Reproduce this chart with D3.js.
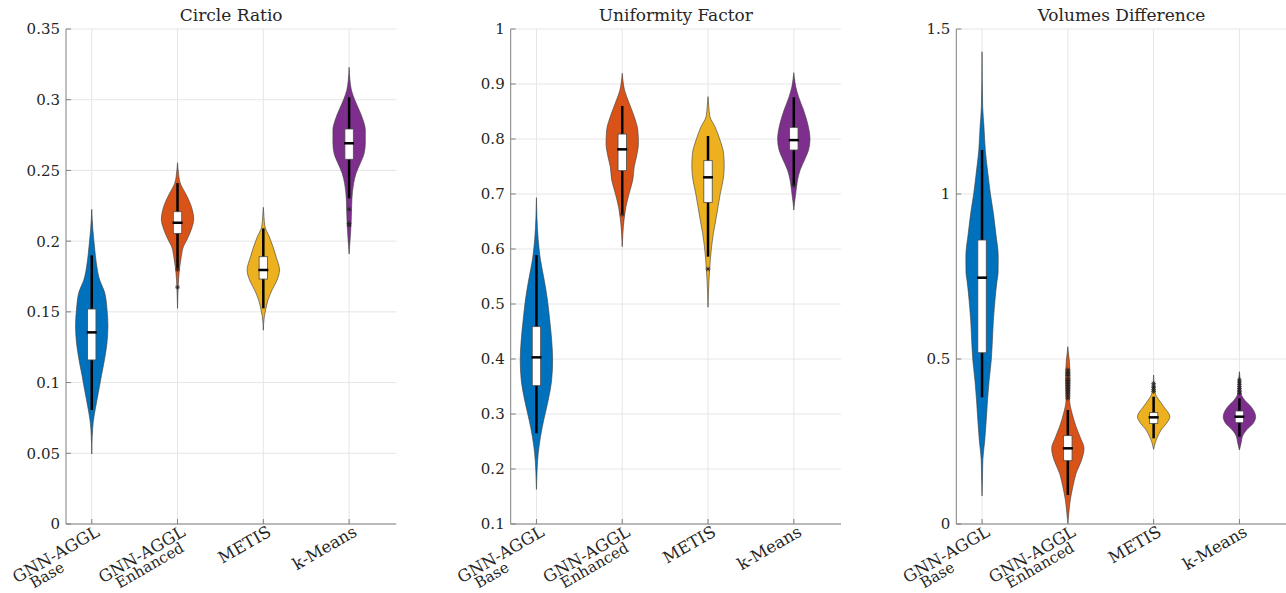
<!DOCTYPE html>
<html><head><meta charset="utf-8">
<script src="https://cdn.jsdelivr.net/npm/d3@7"></script>
<style>
body{margin:0;background:#fff}
svg{display:block}
text{font-family:"DejaVu Serif","Liberation Serif","Noto Serif",serif;fill:#262626}
</style>
</head><body>
<svg id="chart" width="1286" height="593"></svg>
<script>
// ---------- data ----------
const categoriesLine1 = ["GNN-AGGL", "GNN-AGGL", "METIS", "k-Means"];
const categoriesLine2 = ["Base", "Enhanced", "", ""];
const seriesColors = ["#0072BD", "#D95319", "#EDB120", "#7E2F8E"];
const panelTitles = ["Circle Ratio", "Uniformity Factor", "Volumes Difference"];
const yDomains = [[0, 0.35], [0.1, 1], [0, 1.5]];
const yTickValues = [
  [0, 0.05, 0.1, 0.15, 0.2, 0.25, 0.3, 0.35],
  [0.1, 0.2, 0.3, 0.4, 0.5, 0.6, 0.7, 0.8, 0.9, 1],
  [0, 0.5, 1, 1.5]
];
const yTickLabels = [
  ["0", "0.05", "0.1", "0.15", "0.2", "0.25", "0.3", "0.35"],
  ["0.1", "0.2", "0.3", "0.4", "0.5", "0.6", "0.7", "0.8", "0.9", "1"],
  ["0", "0.5", "1", "1.5"]
];

// density profiles: [value, relative density]
const circleRatioDensity = [
  [[0.0495,0],[0.062,0.03],[0.072,0.09],[0.082,0.23],[0.093,0.41],[0.105,0.6],[0.117,0.8],[0.128,0.94],[0.14,1],[0.152,0.94],[0.164,0.79],[0.1725,0.49],[0.184,0.29],[0.196,0.17],[0.208,0.07],[0.2225,0]],
  [[0.1525,0],[0.163,0.025],[0.1725,0.06],[0.182,0.14],[0.189,0.23],[0.196,0.36],[0.2015,0.6],[0.2086,0.86],[0.2156,1],[0.2222,0.91],[0.229,0.7],[0.2338,0.49],[0.241,0.17],[0.248,0.06],[0.2555,0]],
  [[0.137,0],[0.1466,0.06],[0.1513,0.14],[0.1584,0.29],[0.1655,0.54],[0.1725,0.85],[0.1796,1],[0.189,0.79],[0.196,0.6],[0.2031,0.37],[0.2102,0.1],[0.2173,0.04],[0.2239,0]],
  [[0.1909,0],[0.1961,0.03],[0.2055,0.09],[0.2173,0.14],[0.2291,0.17],[0.2409,0.28],[0.248,0.43],[0.255,0.69],[0.2621,0.93],[0.2692,1],[0.2786,1],[0.2857,0.86],[0.2927,0.62],[0.2998,0.35],[0.3069,0.14],[0.314,0.05],[0.3229,0]]
];
const uniformityDensity = [
  [[0.163,0],[0.1982,0.04],[0.2285,0.11],[0.2587,0.25],[0.289,0.45],[0.3255,0.73],[0.3618,0.94],[0.398,1],[0.4345,0.94],[0.4709,0.82],[0.5073,0.68],[0.5436,0.48],[0.58,0.25],[0.6164,0.11],[0.6588,0.03],[0.6933,0]],
  [[0.6042,0],[0.6285,0.04],[0.6527,0.11],[0.6769,0.23],[0.7013,0.43],[0.7255,0.65],[0.7497,0.74],[0.7679,0.88],[0.7922,1],[0.8164,0.96],[0.8406,0.74],[0.865,0.43],[0.889,0.14],[0.9073,0.04],[0.9194,0]],
  [[0.494,0],[0.5194,0.025],[0.5436,0.06],[0.5558,0.09],[0.58,0.14],[0.6042,0.22],[0.6285,0.33],[0.6527,0.48],[0.677,0.62],[0.7013,0.76],[0.7255,0.93],[0.7497,1],[0.774,0.96],[0.798,0.74],[0.8224,0.43],[0.8406,0.12],[0.8588,0.05],[0.877,0]],
  [[0.6709,0],[0.683,0.04],[0.7013,0.12],[0.7255,0.23],[0.7436,0.39],[0.7618,0.66],[0.78,0.91],[0.7994,1],[0.8285,0.85],[0.8527,0.6],[0.877,0.29],[0.895,0.12],[0.9103,0.04],[0.9206,0]]
];
const volumesDensity = [
  [[0.0848,0],[0.1333,0.025],[0.194,0.05],[0.2545,0.17],[0.315,0.26],[0.3758,0.34],[0.436,0.44],[0.497,0.57],[0.5576,0.64],[0.618,0.7],[0.679,0.8],[0.739,0.93],[0.7597,0.99],[0.81,1],[0.881,0.85],[0.9415,0.7],[1.002,0.51],[1.063,0.36],[1.133,0.2],[1.204,0.12],[1.2646,0.04],[1.431,0]],
  [[0.002,0],[0.0323,0.06],[0.0727,0.15],[0.113,0.31],[0.1535,0.51],[0.194,0.85],[0.229,1],[0.2646,0.75],[0.2949,0.51],[0.3354,0.26],[0.3758,0.11],[0.436,0.14],[0.497,0.09],[0.5172,0.04],[0.5373,0]],
  [[0.2263,0],[0.2343,0.04],[0.2494,0.12],[0.2646,0.25],[0.2848,0.46],[0.305,0.8],[0.3252,1],[0.3555,0.63],[0.3758,0.33],[0.396,0.1],[0.426,0.03],[0.4515,0]],
  [[0.2242,0],[0.2343,0.05],[0.2494,0.12],[0.2646,0.18],[0.2848,0.44],[0.305,0.85],[0.3252,1],[0.3555,0.72],[0.3758,0.32],[0.396,0.1],[0.4364,0.05],[0.4616,0]]
];

// box stats: [whiskerLow, q1, median, q3, whiskerHigh]
const circleRatioBox = [
  [0.0806, 0.116, 0.1355, 0.152, 0.190],
  [0.1808, 0.2055, 0.213, 0.2208, 0.241],
  [0.1525, 0.1732, 0.1796, 0.189, 0.209],
  [0.2303, 0.2579, 0.2692, 0.2793, 0.3017]
];
const uniformityBox = [
  [0.265, 0.3515, 0.403, 0.4588, 0.589],
  [0.6636, 0.7424, 0.7812, 0.809, 0.86],
  [0.586, 0.6848, 0.7303, 0.7606, 0.8055],
  [0.7164, 0.78, 0.798, 0.8212, 0.8758]
];
const volumesBox = [
  [0.384, 0.519, 0.7464, 0.8606, 1.1333],
  [0.0879, 0.1919, 0.2293, 0.2677, 0.3455],
  [0.2596, 0.305, 0.3232, 0.3374, 0.3858],
  [0.2646, 0.307, 0.3252, 0.3424, 0.381]
];

const circleRatioOutliers = [[], [0.1800, 0.1674], [], [0.2225, 0.2126, 0.2112]];
const uniformityOutliers = [[], [0.663], [0.5636], [0.7155]];
const volumesOutliers = [
  [],
  [0.381, 0.388, 0.395, 0.40, 0.405, 0.41, 0.415, 0.42, 0.425, 0.43, 0.435, 0.44, 0.45, 0.455, 0.46, 0.467],
  [0.401, 0.407, 0.413, 0.418, 0.426],
  [0.396, 0.403, 0.41, 0.416, 0.423, 0.43, 0.4364]
];

const panelDensity = [circleRatioDensity, uniformityDensity, volumesDensity];
const panelBox = [circleRatioBox, uniformityBox, volumesBox];
const panelOutliers = [circleRatioOutliers, uniformityOutliers, volumesOutliers];

// ---------- layout ----------
const svg = d3.select("#chart");
const plotTop = 29, plotBottom = 524, plotW = 330.3;
const panelLefts = [66, 510.7, 956.3];
const axisColor = "#808080", gridColor = "#e6e6e6";

panelTitles.forEach((title, p) => {
  const left = panelLefts[p];
  const x = d3.scaleLinear().domain([0.7, 4.55]).range([left, left + plotW]);
  const y = d3.scaleLinear().domain(yDomains[p]).range([plotBottom, plotTop]);
  const w = d3.scaleLinear().domain([0, 1]).range([0, 16.2]);
  const g = svg.append("g");

  // grid
  g.selectAll(".hg").data(yTickValues[p]).enter().append("line")
    .attr("x1", left).attr("x2", left + plotW)
    .attr("y1", d => y(d)).attr("y2", d => y(d))
    .attr("stroke", gridColor).attr("stroke-width", 1);
  g.selectAll(".vg").data(categoriesLine1).enter().append("line")
    .attr("x1", (d, i) => x(i + 1)).attr("x2", (d, i) => x(i + 1))
    .attr("y1", plotTop).attr("y2", plotBottom)
    .attr("stroke", gridColor).attr("stroke-width", 1);

  // violins
  const area = d3.area().curve(d3.curveMonotoneY);
  panelDensity[p].forEach((prof, i) => {
    const cx = x(i + 1);
    area.y(d => y(d[0])).x0(d => cx - w(d[1])).x1(d => cx + w(d[1]));
    g.append("path").attr("d", area(prof))
      .attr("fill", seriesColors[i]).attr("stroke", "#3a3a3a").attr("stroke-width", 0.6);
  });

  // boxes
  panelBox[p].forEach((b, i) => {
    const cx = x(i + 1);
    g.append("line").attr("x1", cx).attr("x2", cx)
      .attr("y1", y(b[0])).attr("y2", y(b[4]))
      .attr("stroke", "#000").attr("stroke-width", 2.5);
    g.append("rect").attr("x", cx - 4.2).attr("width", 8.4)
      .attr("y", y(b[3])).attr("height", y(b[1]) - y(b[3]))
      .attr("fill", "#fff").attr("stroke", "#4d4d4d").attr("stroke-width", 0.8);
    g.append("line").attr("x1", cx - 5).attr("x2", cx + 5)
      .attr("y1", y(b[2])).attr("y2", y(b[2]))
      .attr("stroke", "#000").attr("stroke-width", 2.5);
  });

  // outliers (asterisks)
  panelOutliers[p].forEach((vals, i) => {
    const cx = x(i + 1);
    vals.forEach(v => {
      const cy = y(v), r = 2.4;
      const star = `M${cx - r},${cy}L${cx + r},${cy}M${cx},${cy - r}L${cx},${cy + r}` +
        `M${cx - r * 0.7},${cy - r * 0.7}L${cx + r * 0.7},${cy + r * 0.7}M${cx - r * 0.7},${cy + r * 0.7}L${cx + r * 0.7},${cy - r * 0.7}`;
      g.append("path").attr("d", star).attr("stroke", "#222").attr("stroke-width", 0.9)
        .attr("fill", "none").attr("opacity", 0.85);
    });
  });

  // axes
  g.append("line").attr("x1", left).attr("x2", left).attr("y1", plotTop).attr("y2", plotBottom)
    .attr("stroke", axisColor).attr("stroke-width", 1);
  g.append("line").attr("x1", left).attr("x2", left + plotW).attr("y1", plotBottom).attr("y2", plotBottom)
    .attr("stroke", axisColor).attr("stroke-width", 1);
  g.selectAll(".yt").data(yTickValues[p]).enter().append("line")
    .attr("x1", left).attr("x2", left + 5)
    .attr("y1", d => y(d)).attr("y2", d => y(d))
    .attr("stroke", axisColor).attr("stroke-width", 1);
  g.selectAll(".xt").data(categoriesLine1).enter().append("line")
    .attr("x1", (d, i) => x(i + 1)).attr("x2", (d, i) => x(i + 1))
    .attr("y1", plotBottom).attr("y2", plotBottom - 5)
    .attr("stroke", axisColor).attr("stroke-width", 1);

  // y tick labels
  g.selectAll(".yl").data(yTickLabels[p]).enter().append("text")
    .attr("x", left - 6).attr("y", (d, i) => y(yTickValues[p][i]))
    .attr("dy", "0.36em").attr("text-anchor", "end")
    .style("font-size", "15px").text(d => d);

  // x tick labels (rotated)
  categoriesLine1.forEach((lab, i) => {
    const cx = x(i + 1);
    const lg = g.append("g").attr("transform", `translate(${cx + 9},${plotBottom + 11}) rotate(-30)`);
    const t1 = lg.append("text").attr("x", 0).attr("y", 0).attr("text-anchor", "end")
      .style("font-size", "16.5px").text(lab);
    if (categoriesLine2[i]) {
      const w1 = t1.node().getComputedTextLength();
      lg.append("text").attr("x", -w1 + 12).attr("y", 13).attr("text-anchor", "start")
        .style("font-size", "15px").text(categoriesLine2[i]);
    }
  });

  // title
  g.append("text").attr("x", left + plotW / 2).attr("y", 21)
    .attr("text-anchor", "middle").style("font-size", "17px").text(title);
});
</script>
</body></html>
